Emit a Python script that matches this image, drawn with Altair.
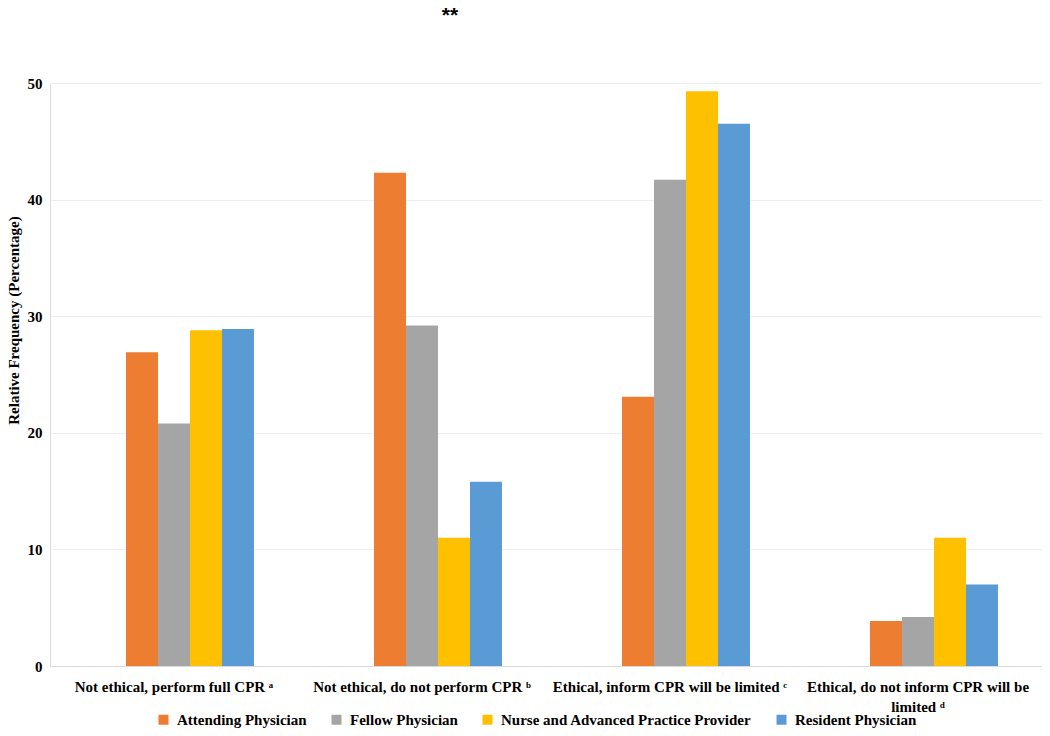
import altair as alt
import pandas as pd

categories = [
    "Not ethical, perform full CPR \u1d43",
    "Not ethical, do not perform CPR \u1d47",
    "Ethical, inform CPR will be limited \u1d9c",
    "Ethical, do not inform CPR will be\nlimited \u1d48",
]
series = ["Attending Physician", "Fellow Physician",
          "Nurse and Advanced Practice Provider", "Resident Physician"]
attending = [26.9, 42.3, 23.1, 3.85]
fellow = [20.8, 29.2, 41.7, 4.2]
nurse = [28.8, 11.0, 49.3, 11.0]
resident = [28.9, 15.8, 46.5, 7.0]
colors = ["#ED7D31", "#A5A5A5", "#FFC000", "#5B9BD5"]

rows = []
for s, vals in zip(series, [attending, fellow, nurse, resident]):
    for c, v in zip(categories, vals):
        rows.append({"category": c, "series": s, "value": v})
df = pd.DataFrame(rows)

FONT = "Liberation Serif"

chart = alt.Chart(df).mark_bar(stroke=None).encode(
    x=alt.X("category:N", sort=categories,
            scale=alt.Scale(paddingInner=0.355, paddingOuter=0.1775),
            axis=alt.Axis(title=None, labelAngle=0, labelFont=FONT, labelFontSize=15,
                          labelFontWeight="bold", labelColor="#000000", ticks=False,
                          domain=True, domainColor="#d9d9d9", labelPadding=13,
                          labelExpr="split(datum.label, '\\n')", labelLimit=400,
                          labelLineHeight=20)),
    xOffset=alt.XOffset("series:N", scale=alt.Scale(domain=["_"] + series, paddingInner=0, paddingOuter=0)),
    y=alt.Y("value:Q", scale=alt.Scale(domain=[0, 50], nice=False),
            axis=alt.Axis(title="Relative Frequency (Percentage)", values=[0, 10, 20, 30, 40, 50],
                          titleFont=FONT, titleFontSize=15, titleFontWeight="bold",
                          titleColor="#000000", titlePadding=6, titleY=237,
                          labelFont=FONT, labelFontSize=15, labelFontWeight="bold",
                          labelColor="#000000", labelPadding=8, ticks=False, domain=False,
                          grid=True, gridColor="#eeeeee")),
    color=alt.Color("series:N", sort=series,
                    scale=alt.Scale(domain=series, range=colors),
                    legend=alt.Legend(title=None, orient="none", direction="horizontal",
                                      legendX=106, legendY=629, symbolType="square",
                                      symbolSize=100, symbolStrokeWidth=0,
                                      labelFont=FONT, labelFontSize=15, labelFontWeight="bold",
                                      labelColor="#000000", columnPadding=22, labelOffset=6,
                                      labelLimit=400)),
).properties(
    width=992, height=583,
    autosize=alt.AutoSizeParams(type="none"),
    padding={"left": 42, "top": 75, "right": 0, "bottom": 62},
    title=alt.TitleParams("**", font="Liberation Sans", fontSize=21, fontWeight="bold",
                          color="#000000", anchor="middle", dx=-96, offset=33,
                          baseline="alphabetic"),
).configure_view(stroke=None).configure(background="white")

chart.save("out.html", embed_options={"renderer": "svg", "actions": False})
